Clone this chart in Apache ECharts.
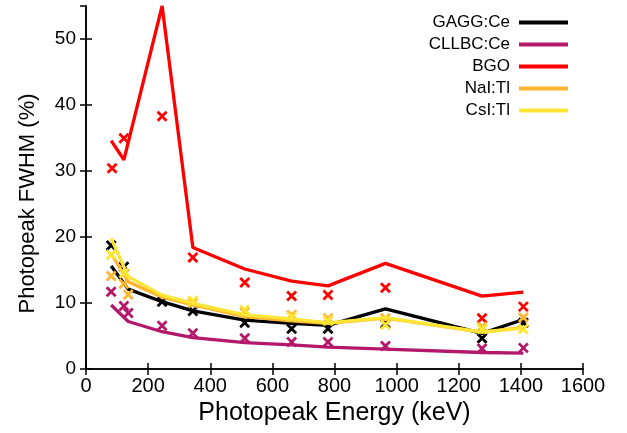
<!DOCTYPE html>
<html><head><meta charset="utf-8">
<script src="https://cdn.jsdelivr.net/npm/echarts@6/dist/echarts.min.js"></script>
<style>html,body{margin:0;padding:0;background:#fff}#c{width:627px;height:433px}</style>
</head><body><div id="c"></div>
<script>
// ---- data ----
const seriesNames = ['GAGG:Ce', 'CLLBC:Ce', 'BGO', 'NaI:Tl', 'CsI:Tl'];
const xTicks = [0, 200, 400, 600, 800, 1000, 1200, 1400, 1600];
const yTicks = [0, 10, 20, 30, 40, 50];

const gaggLineE = [81, 136, 245, 344, 511, 662, 779, 964, 1275, 1408];
const gaggLine  = [15.6, 12.1, 10.2, 8.8, 7.4, 6.9, 6.6, 9.1, 5.4, 7.5];
const gaggPtsE  = [81, 122, 245, 344, 511, 662, 779, 964, 1275, 1408];
const gaggPts   = [18.7, 15.5, 10.2, 8.8, 7.0, 6.1, 6.1, 6.9, 4.65, 7.0];

const cllbcLineE = [81, 136, 245, 344, 511, 662, 779, 964, 1275, 1408];
const cllbcLine  = [9.7, 7.2, 5.65, 4.75, 4.0, 3.65, 3.3, 3.0, 2.5, 2.4];
const cllbcPtsE  = [81, 122, 136, 245, 344, 511, 662, 779, 964, 1275, 1408];
const cllbcPts   = [11.7, 9.55, 8.5, 6.55, 5.4, 4.65, 4.1, 4.1, 3.5, 3.1, 3.2];

const bgoLineE = [81, 122, 245, 344, 511, 662, 779, 964, 1275, 1408];
const bgoLine  = [34.6, 31.7, 55, 18.4, 15.15, 13.3, 12.6, 16.0, 11.05, 11.65];
const bgoPtsE  = [84, 122, 245, 344, 511, 662, 779, 964, 1275, 1408];
const bgoPts   = [30.4, 34.95, 38.3, 16.9, 13.1, 11.05, 11.2, 12.3, 7.7, 9.45];

const naiLineE = [81, 136, 245, 344, 511, 662, 779, 964, 1275, 1408];
const naiLine  = [17.5, 13.2, 10.9, 9.7, 7.95, 7.3, 6.9, 7.7, 5.6, 6.3];
const naiPtsE  = [81, 122, 136, 344, 511, 662, 779, 964, 1275, 1408];
const naiPts   = [14.1, 12.9, 11.3, 10.0, 8.6, 8.2, 7.7, 7.7, 6.4, 7.8];

const csiLineE = [81, 136, 245, 344, 511, 662, 779, 964, 1275, 1408];
const csiLine  = [19.8, 14.0, 11.2, 9.95, 8.2, 7.6, 7.0, 7.8, 5.6, 6.2];
const csiPtsE  = [81, 122, 344, 511, 662, 779, 964, 1275, 1408];
const csiPts   = [17.3, 14.5, 10.35, 8.95, 7.9, 7.3, 6.7, 6.05, 6.05];

const colors = ['#000000', '#b3186a', '#ff0000', '#ffb52e', '#ffe534'];

// ---- build ----
const zip = (xs, ys) => xs.map((x, i) => [x, ys[i]]);
const lines = [[gaggLineE, gaggLine], [cllbcLineE, cllbcLine], [bgoLineE, bgoLine], [naiLineE, naiLine], [csiLineE, csiLine]];
const pts = [[gaggPtsE, gaggPts], [cllbcPtsE, cllbcPts], [bgoPtsE, bgoPts], [naiPtsE, naiPts], [csiPtsE, csiPts]];
const FONT = 'Liberation Sans';

const series = [];
seriesNames.forEach((n, i) => {
  series.push({
    name: n, type: 'line', data: zip(lines[i][0], lines[i][1]),
    showSymbol: false, symbol: 'none', clip: true,
    lineStyle: { color: colors[i], width: 3.3 }, itemStyle: { color: colors[i] },
    z: 2 + i
  });
});
seriesNames.forEach((n, i) => {
  series.push({
    name: n, type: 'scatter', data: zip(pts[i][0], pts[i][1]),
    symbol: 'path://M0,0L10,10M10,0L0,10', symbolSize: 9,
    itemStyle: { color: 'none', borderColor: colors[i], borderWidth: 2.8, opacity: 1 },
    z: 2 + i
  });
});

const axisLineStyle = { show: true, lineStyle: { color: '#000', width: 1.6 } };
const tick = { show: true, inside: true, length: 6, lineStyle: { color: '#000', width: 1.5 } };

const option = {
  animation: false,
  grid: { left: 86, right: 44, top: 6, bottom: 64, containLabel: false },
  legend: {
    data: seriesNames, orient: 'vertical', align: 'right',
    right: 59, top: 14, padding: 0, itemGap: 5,
    icon: 'rect', itemWidth: 49, itemHeight: 4,
    textStyle: { fontFamily: FONT, fontSize: 17, color: '#000', padding: [0, 4, 0, 0] }
  },
  xAxis: [
    { type: 'value', position: 'bottom', min: xTicks[0], max: xTicks[xTicks.length - 1], interval: 200,
      axisLine: axisLineStyle, axisTick: tick, splitLine: { show: false },
      axisLabel: { fontFamily: FONT, fontSize: 20, color: '#000', margin: 7, formatter: v => String(v) },
      name: 'Photopeak Energy (keV)', nameLocation: 'middle', nameGap: 32,
      nameTextStyle: { fontFamily: FONT, fontSize: 25, color: '#000' } },
    { type: 'value', position: 'top', min: xTicks[0], max: xTicks[xTicks.length - 1], interval: 200,
      axisLine: axisLineStyle, axisTick: tick, splitLine: { show: false }, axisLabel: { show: false } }
  ],
  yAxis: [
    { type: 'value', position: 'left', min: yTicks[0], max: 55, interval: 10,
      axisLine: axisLineStyle, axisTick: tick, splitLine: { show: false },
      axisLabel: { fontFamily: FONT, fontSize: 19, color: '#000', margin: 10, showMaxLabel: false, formatter: v => String(v) },
      name: 'Photopeak FWHM (%)', nameLocation: 'middle', nameGap: 47, nameRotate: 90,
      nameTextStyle: { fontFamily: FONT, fontSize: 22, color: '#000', padding: [0, 32, 0, 0] } },
    { type: 'value', position: 'right', min: yTicks[0], max: 55, interval: 10,
      axisLine: axisLineStyle, axisTick: tick, splitLine: { show: false }, axisLabel: { show: false } }
  ],
  series: series
};
echarts.init(document.getElementById('c'), null, { renderer: 'canvas' }).setOption(option);
</script></body></html>
